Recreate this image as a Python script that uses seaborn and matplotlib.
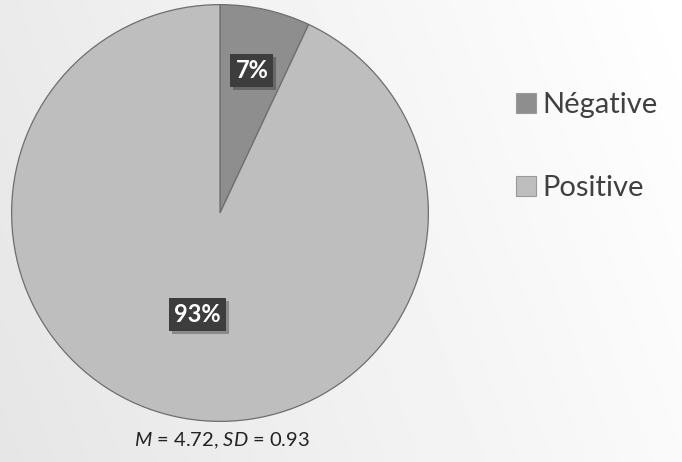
import numpy as np
import matplotlib
matplotlib.use("Agg")
import matplotlib.pyplot as plt
import matplotlib.patheffects as pe
from matplotlib.patches import Patch
import seaborn as sns

# data
categories = ["Négative", "Positive"]
values = [7, 93]
colors = ["#8e8e8e", "#bebebe"]
label_dist = [0.70, 0.50]
footnote_m = "4.72"
footnote_sd = "0.93"

sns.set_theme(style="white")
plt.rcParams["font.family"] = ["Lato", "DejaVu Sans"]
plt.rcParams["mathtext.fontset"] = "custom"
plt.rcParams["mathtext.it"] = "Lato:italic"
plt.rcParams["mathtext.rm"] = "Lato"

fig = plt.figure(figsize=(6.82, 4.62), dpi=100)

# background gradient
bg = fig.add_axes([0, 0, 1, 1], zorder=-10)
xx = np.linspace(0, 1, 300)
yy = np.linspace(0, 1, 200)
X, Y = np.meshgrid(xx, yy)
grad = 0.90 + 0.08 * X + 0.02 * (1 - Y)
bg.imshow(grad, cmap="gray", vmin=0, vmax=1, aspect="auto", extent=[0, 1, 0, 1])
bg.axis("off")

ax = fig.add_axes([11 / 682, 40 / 462, 418 / 682, 418 / 462])
wedges, _ = ax.pie(values, colors=colors, startangle=90, counterclock=False,
                   wedgeprops=dict(edgecolor="#6e6e6e", linewidth=0.9))
ax.set_xlim(-1.003, 1.003)
ax.set_ylim(-1.003, 1.003)
ax.set_aspect("equal")

total = sum(values)
for w, v, d in zip(wedges, values, label_dist):
    mid = np.deg2rad((w.theta1 + w.theta2) / 2)
    ax.text(d * np.cos(mid), d * np.sin(mid), f"{round(100 * v / total)}%",
            ha="center", va="center", color="white", fontsize=17, fontweight="bold",
            bbox=dict(boxstyle="square,pad=0.22", fc="#3d3d3d", ec="none",
                      path_effects=[pe.withSimplePatchShadow(offset=(2, -2), alpha=0.3)]))

handles = [Patch(facecolor=c, edgecolor="#9a9a9a", linewidth=0.8) for c in colors]
fig.legend(handles, categories, loc="upper left", bbox_to_anchor=(0.718, 0.857),
           frameon=False, fontsize=21, handlelength=0.7, handleheight=0.7,
           handletextpad=0.2, labelspacing=1.95, labelcolor="#404040")

fig.text(222 / 682, 1 - 441 / 462,
         rf"$M$ = {footnote_m}, $SD$ = {footnote_sd}",
         ha="center", va="center", fontsize=14.5, color="#222222")

fig.savefig("out.png", dpi=100)
